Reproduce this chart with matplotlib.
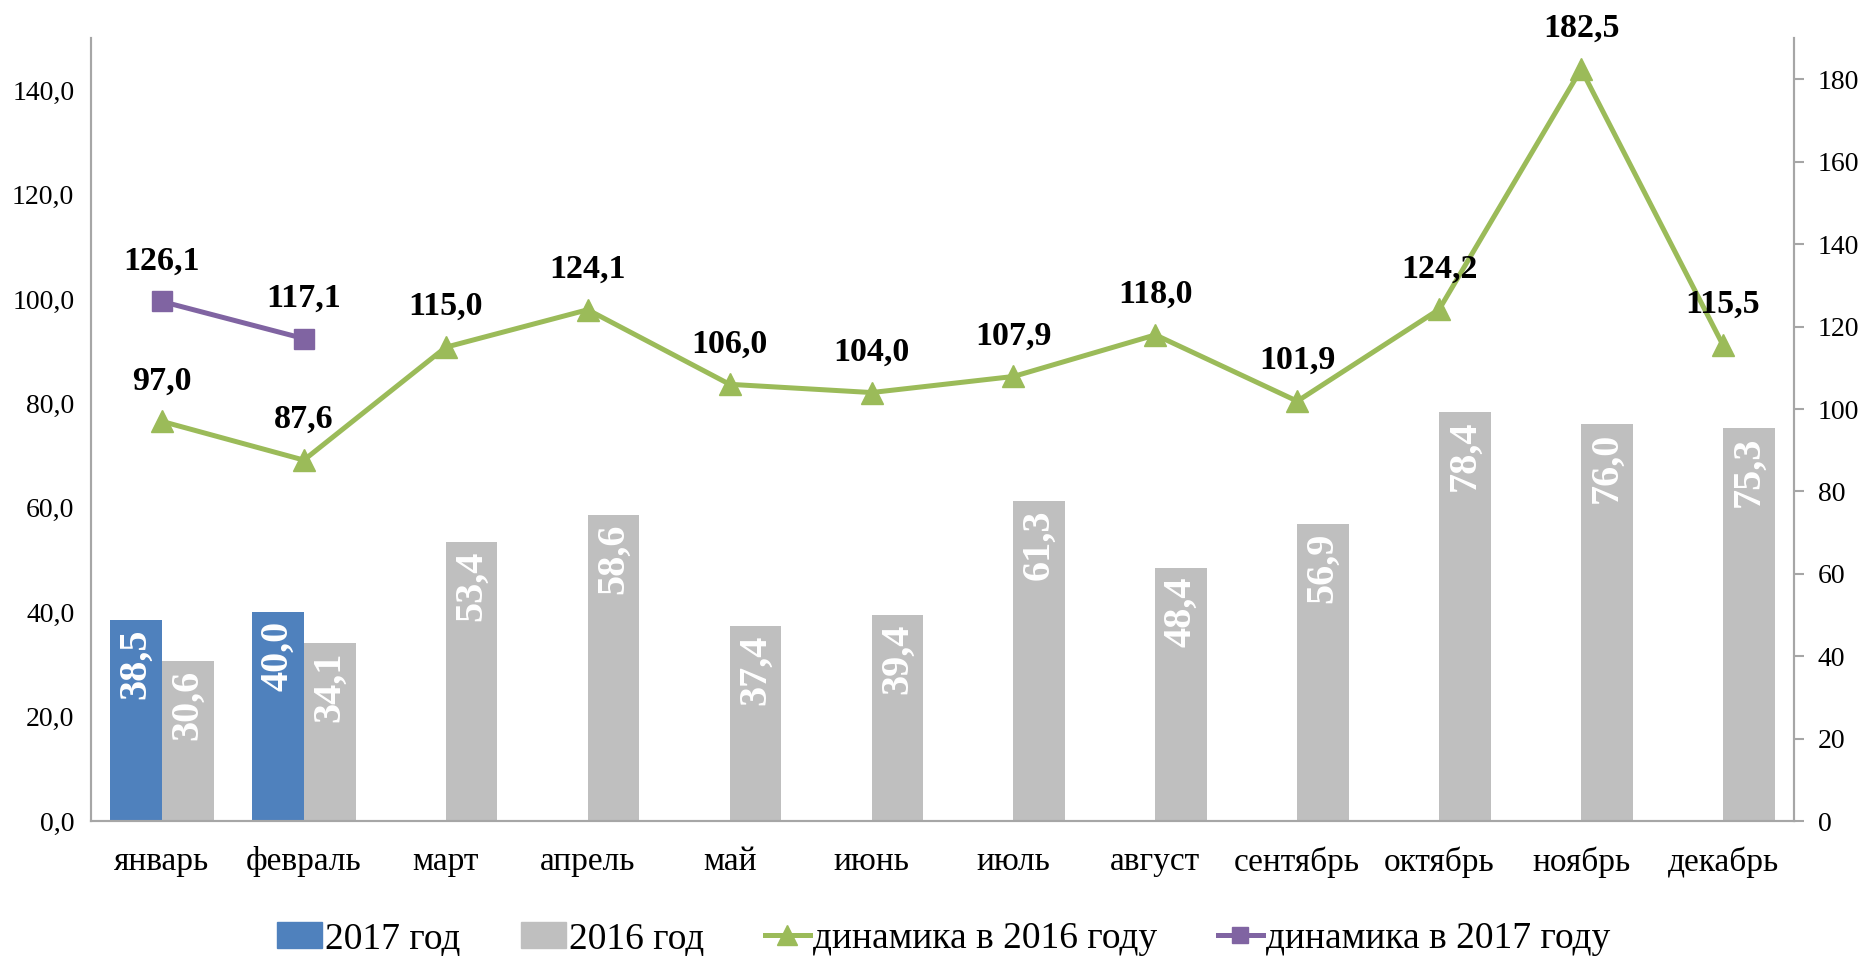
import matplotlib
matplotlib.use("Agg")
import matplotlib.pyplot as plt
import numpy as np
from matplotlib.lines import Line2D
from matplotlib.patches import Patch

plt.rcParams['font.family'] = ['Liberation Serif', 'DejaVu Serif']

months = ["январь", "февраль", "март", "апрель", "май", "июнь", "июль",
          "август", "сентябрь", "октябрь", "ноябрь", "декабрь"]
vol_2017 = [38.5, 40.0]
vol_2016 = [30.6, 34.1, 53.4, 58.6, 37.4, 39.4, 61.3, 48.4, 56.9, 78.4, 76.0, 75.3]
dyn_2016 = [97.0, 87.6, 115.0, 124.1, 106.0, 104.0, 107.9, 118.0, 101.9, 124.2, 182.5, 115.5]
dyn_2017 = [126.1, 117.1]

left_ticks = [0, 20, 40, 60, 80, 100, 120, 140]
right_ticks = [0, 20, 40, 60, 80, 100, 120, 140, 160, 180]

BLUE = "#4F81BD"
GRAY = "#BFBFBF"
GREEN = "#9BBB59"
PURPLE = "#8064A2"
SPINE = "#A6A6A6"

def fmt(v):
    return f"{v:.1f}".replace(".", ",")

fig = plt.figure(figsize=(18.61, 9.56), dpi=100)
ax = fig.add_axes([0.0489, 0.1412, 0.9151, 0.8188])
ax2 = ax.twinx()

x = np.arange(len(months))
w = 0.364

b17 = ax.bar(x[:len(vol_2017)] - w / 2, vol_2017, w, color=BLUE, zorder=2)
b16 = ax.bar(x + w / 2, vol_2016, w, color=GRAY, zorder=2)

for bars in (b17, b16):
    for r in bars:
        h = r.get_height()
        ax.annotate(fmt(h), (r.get_x() + r.get_width() / 2, h),
                    xytext=(0, -6), textcoords="offset points",
                    rotation=90, ha="center", va="top", color="white",
                    fontsize=29, fontweight="bold")

ax2.plot(x, dyn_2016, color=GREEN, lw=3.6, marker="^", ms=16, zorder=3)
ax2.plot(x[:len(dyn_2017)], dyn_2017, color=PURPLE, lw=3.6, marker="s", ms=14, zorder=3)

for xi, v in zip(x, dyn_2016):
    ax2.annotate(fmt(v), (xi, v), xytext=(0, 18), textcoords="offset points",
                 ha="center", va="bottom", fontsize=24.5, fontweight="bold")
for xi, v in zip(x[:len(dyn_2017)], dyn_2017):
    ax2.annotate(fmt(v), (xi, v), xytext=(0, 18), textcoords="offset points",
                 ha="center", va="bottom", fontsize=24.5, fontweight="bold")

ax.set_xlim(-0.5, len(months) - 0.5)
ax.set_ylim(0, 150)
ax2.set_ylim(0, 190)
ax.set_yticks(left_ticks)
ax.set_yticklabels([fmt(t) for t in left_ticks], fontsize=20)
ax2.set_yticks(right_ticks)
ax2.set_yticklabels([str(t) for t in right_ticks], fontsize=20)
ax.set_xticks(x)
ax.set_xticklabels(months, fontsize=24)

for a in (ax, ax2):
    a.spines["top"].set_visible(False)
    for s in ("left", "right", "bottom"):
        a.spines[s].set_color(SPINE)
        a.spines[s].set_linewidth(1.5)
ax.tick_params(axis="x", length=0, pad=18)
ax.tick_params(axis="y", length=0, pad=12)
ax2.tick_params(axis="y", length=7, width=1.5, color=SPINE, pad=10)

handles = [
    Patch(color=BLUE),
    Patch(color=GRAY),
    Line2D([], [], color=GREEN, lw=3.6, marker="^", ms=14),
    Line2D([], [], color=PURPLE, lw=3.6, marker="s", ms=12),
]
labels = ["2017 год", "2016 год", "динамика в 2016 году", "динамика в 2017 году"]
fig.legend(handles, labels, loc="center", bbox_to_anchor=(0.507, 0.018), ncol=4,
           frameon=False, fontsize=27, handlelength=1.2, handletextpad=0.1,
           columnspacing=1.6)

fig.savefig("out.png", dpi=100)
